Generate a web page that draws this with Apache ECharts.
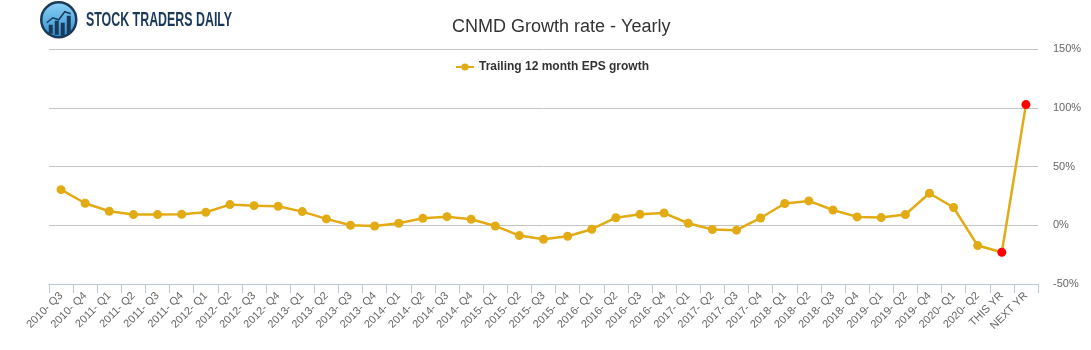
<!DOCTYPE html>
<html>
<head>
<meta charset="utf-8">
<script src="https://cdn.jsdelivr.net/npm/echarts@6/dist/echarts.min.js"></script>
<style>
  html, body { margin: 0; padding: 0; background: #fff; }
  #chart { width: 1091px; height: 350px; }
</style>
</head>
<body>
<div id="chart"></div>
<script>
// categories on the x axis
var quarters = [
    '2010- Q3', '2010- Q4',
    '2011- Q1', '2011- Q2', '2011- Q3', '2011- Q4',
    '2012- Q1', '2012- Q2', '2012- Q3', '2012- Q4',
    '2013- Q1', '2013- Q2', '2013- Q3', '2013- Q4',
    '2014- Q1', '2014- Q2', '2014- Q3', '2014- Q4',
    '2015- Q1', '2015- Q2', '2015- Q3', '2015- Q4',
    '2016- Q1', '2016- Q2', '2016- Q3', '2016- Q4',
    '2017- Q1', '2017- Q2', '2017- Q3', '2017- Q4',
    '2018- Q1', '2018- Q2', '2018- Q3', '2018- Q4',
    '2019- Q1', '2019- Q2', '2019- Q4',
    '2020- Q1', '2020- Q2',
    'THIS YR', 'NEXT YR'
];
// trailing 12 month EPS growth, in %
var epsGrowth = [
    30.3, 18.7,
    11.9, 9.1, 9.1, 9.4,
    11.1, 17.6, 16.7, 16.2,
    11.6, 5.4, 0.0, -0.6,
    1.7, 5.9, 7.3, 5.1,
    -0.6, -8.8, -11.9, -9.4,
    -3.4, 6.4, 9.3, 10.4,
    1.7, -3.6, -4.2, 6.2,
    18.5, 20.7, 13.0, 7.1,
    6.5, 9.1, 27.2,
    15.1, -17.3,
    -23.0, 102.7
];
// estimate points drawn in red
var estimateLabels = ['THIS YR', 'NEXT YR'];
var yTicks = { min: -50, max: 150, interval: 50 };

var lineColor = '#e2ab14';
var seriesData = epsGrowth.map(function (v, i) {
    if (estimateLabels.indexOf(quarters[i]) >= 0) {
        return { value: v, itemStyle: { color: '#ff0000' } };
    }
    return v;
});

var chart = echarts.init(document.getElementById('chart'));
chart.setOption({
    animation: false,
    textStyle: { fontFamily: 'Liberation Sans, Arial, sans-serif' },
    title: {
        text: 'CNMD Growth rate - Yearly',
        left: 447,
        top: 13,
        textStyle: { fontSize: 18, fontWeight: 'normal', color: '#333' }
    },
    legend: {
        data: ['Trailing 12 month EPS growth'],
        top: 56,
        left: 450,
        itemWidth: 18,
        itemHeight: 9,
        textStyle: { fontSize: 12, fontWeight: 'bold', color: '#333' }
    },
    grid: {
        left: 49,
        right: 53,
        top: 49,
        bottom: 66
    },
    xAxis: {
        type: 'category',
        data: quarters,
        boundaryGap: true,
        axisLine: { onZero: false, lineStyle: { color: '#b7c8d8', width: 1 } },
        axisTick: { show: true, length: 9, lineStyle: { color: '#b7c8d8' } },
        axisLabel: { rotate: 45, interval: 0, fontSize: 11, color: '#666', margin: 10 },
        splitLine: { show: false }
    },
    yAxis: {
        type: 'value',
        position: 'right',
        min: yTicks.min,
        max: yTicks.max,
        interval: yTicks.interval,
        axisLine: { show: false },
        axisTick: { show: false },
        axisLabel: {
            formatter: '{value}%',
            fontSize: 11,
            color: '#666',
            margin: 15
        },
        splitLine: { lineStyle: { color: '#c4c4c4', width: 1 } }
    },
    series: [{
        name: 'Trailing 12 month EPS growth',
        type: 'line',
        data: seriesData,
        symbol: 'circle',
        symbolSize: 9,
        color: lineColor,
        lineStyle: { color: lineColor, width: 2.5 },
        itemStyle: { color: lineColor }
    }],
    graphic: [
        {
            type: 'group',
            left: 40,
            top: 1,
            children: [
                {
                    type: 'circle',
                    shape: { cx: 19, cy: 19, r: 17.5 },
                    style: {
                        fill: new echarts.graphic.LinearGradient(0, 0, 0, 1, [
                            { offset: 0, color: '#8fd3f7' },
                            { offset: 1, color: '#2d8fd0' }
                        ]),
                        stroke: '#1b3a5a',
                        lineWidth: 2.5
                    }
                },
                { type: 'rect', shape: { x: 9, y: 24, width: 4, height: 9 }, style: { fill: '#1b3a5a' } },
                { type: 'rect', shape: { x: 15, y: 20, width: 4, height: 14 }, style: { fill: '#1b3a5a' } },
                { type: 'rect', shape: { x: 21, y: 22, width: 4, height: 13 }, style: { fill: '#1b3a5a' } },
                { type: 'rect', shape: { x: 27, y: 15, width: 4, height: 18 }, style: { fill: '#1b3a5a' } },
                {
                    type: 'polyline',
                    shape: { points: [[7, 22], [13, 17], [19, 19], [25, 11], [31, 13]] },
                    style: { stroke: '#1b3a5a', lineWidth: 1.5, fill: null }
                }
            ]
        },
        {
            type: 'text',
            x: 86,
            y: 10,
            scaleX: 0.62,
            style: {
                text: 'STOCK TRADERS DAILY',
                fontFamily: 'Liberation Sans, sans-serif',
                fontSize: 20,
                fontWeight: 'bold',
                fill: '#1b3a5a'
            }
        }
    ]
});
</script>
</body>
</html>
